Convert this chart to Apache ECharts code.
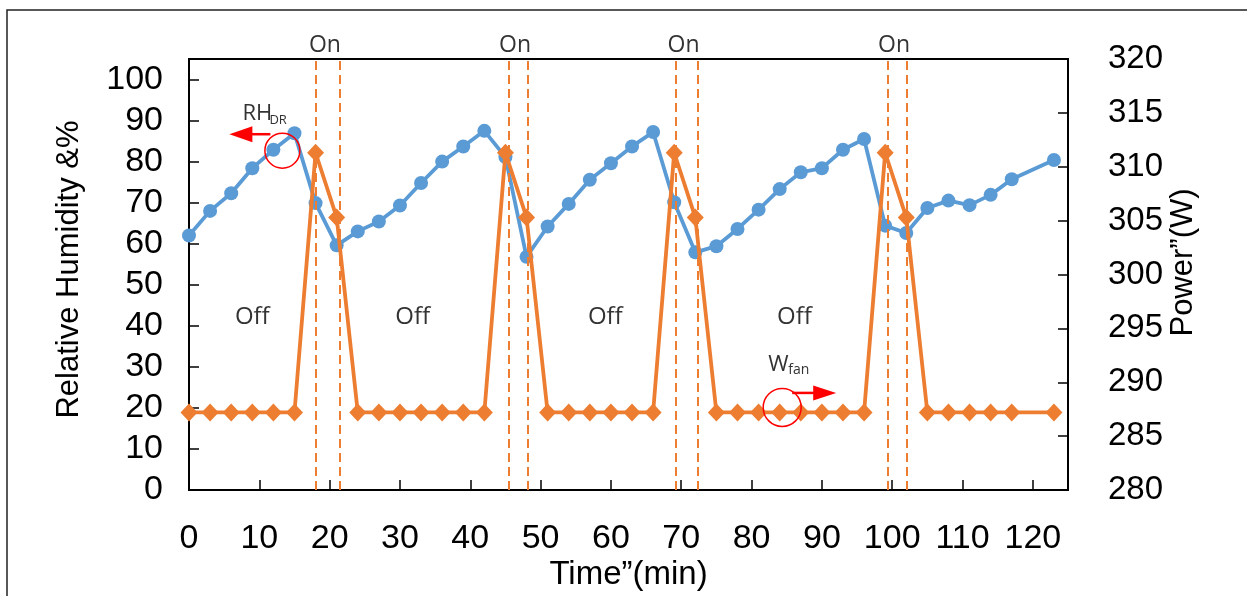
<!DOCTYPE html>
<html>
<head>
<meta charset="utf-8">
<style>
  html, body { margin: 0; padding: 0; background: #fff; }
  #chart { width: 1247px; height: 596px; }
</style>
<script src="https://cdn.jsdelivr.net/npm/echarts@6/dist/echarts.min.js"></script>
</head>
<body>
<div id="chart"></div>
<script>
// 时间（min）
var timeMin = [0, 3, 6, 9, 12, 15, 18, 21, 24, 27, 30, 33, 36, 39, 42, 45, 48, 51, 54, 57,
    60, 63, 66, 69, 72, 75, 78, 81, 84, 87, 90, 93, 96, 99, 102, 105, 108, 111, 114, 117, 123];
// 相对湿度 RH_DR（%）
var rhValues = [62.0, 68.0, 72.3, 78.4, 82.9, 86.9, 69.9, 59.6, 63.0, 65.4, 69.3, 74.8, 80.0, 83.7, 87.5, 81.1, 56.8, 64.2, 69.7, 75.6,
    79.6, 83.7, 87.2, 70.1, 57.9, 59.4, 63.6, 68.3, 73.3, 77.4, 78.4, 82.9, 85.5, 64.4, 62.6, 68.7, 70.5, 69.4, 71.9, 75.7, 80.4];
// 风机功率 W_fan（W）
var powerValues = [287.2, 287.2, 287.2, 287.2, 287.2, 287.2, 311.3, 305.3, 287.2, 287.2, 287.2, 287.2, 287.2, 287.2, 287.2, 311.3, 305.3, 287.2, 287.2, 287.2,
    287.2, 287.2, 287.2, 311.3, 305.3, 287.2, 287.2, 287.2, 287.2, 287.2, 287.2, 287.2, 287.2, 311.3, 305.3, 287.2, 287.2, 287.2, 287.2, 287.2, 287.2];
// 开启区间的虚线位置
var onLines = [18.0, 21.5, 45.4, 48.2, 69.2, 72.3, 99.3, 102.1];
// 关闭区间文字位置（min）
var offLabelTimes = [9, 31.8, 59.2, 86.1];

var tickFont = "'Liberation Sans', Arial, sans-serif";
var noteFont = "'Open Sans', 'Noto Sans', sans-serif";

function zip(xs, ys) {
    return xs.map(function (x, i) { return [x, ys[i]]; });
}

var chart = echarts.init(document.getElementById('chart'));

var axisCommon = {
    axisLine: { show: true, lineStyle: { color: '#000', width: 2 } },
    axisTick: { show: true, inside: true, length: 10, lineStyle: { color: '#000', width: 1.5 } },
    splitLine: { show: false },
    nameMoveOverlap: false
};

chart.setOption({
    animation: false,
    grid: { left: 189, right: 179, top: 59, bottom: 105, show: true, borderColor: '#000', borderWidth: 2 },
    xAxis: Object.assign({
        type: 'value', min: 0, max: 125, interval: 10,
        name: 'Time”(min)', nameLocation: 'middle', nameGap: 68,
        nameTextStyle: { color: '#000', fontFamily: tickFont, fontSize: 33 },
        axisLabel: { color: '#000', fontFamily: tickFont, fontSize: 34, margin: 32, showMaxLabel: false }
    }, axisCommon),
    yAxis: [
        Object.assign({
            type: 'value', min: 0, max: 105, interval: 10, position: 'left',
            name: 'Relative Humidity &%', nameLocation: 'middle', nameGap: 104,
            nameTextStyle: { color: '#000', fontFamily: tickFont, fontSize: 31, padding: [0, 0, 0, 10] },
            axisLabel: { color: '#000', fontFamily: tickFont, fontSize: 34, margin: 26, showMaxLabel: false, padding: [0, 0, 12, 0] }
        }, axisCommon),
        Object.assign({
            type: 'value', min: 280, max: 320, interval: 5, position: 'right',
            name: 'Power”(W)', nameLocation: 'middle', nameGap: 100,
            nameTextStyle: { color: '#000', fontFamily: tickFont, fontSize: 31, padding: [0, 0, 0, 24] },
            axisLabel: { color: '#000', fontFamily: tickFont, fontSize: 33, margin: 40, padding: [0, 0, 8, 0] }
        }, axisCommon)
    ],
    series: [
        {
            name: 'onLines', type: 'line', data: [], z: 1,
            markLine: {
                silent: true, symbol: 'none', label: { show: false },
                lineStyle: { color: '#ED7D31', type: [9, 5], width: 2 },
                data: onLines.map(function (t) { return { xAxis: t }; })
            }
        },
        {
            name: 'RH_DR', type: 'line', yAxisIndex: 0, data: zip(timeMin, rhValues), z: 2,
            symbol: 'circle', symbolSize: 14,
            itemStyle: { color: '#5B9BD5' },
            lineStyle: { color: '#5B9BD5', width: 3.8 }
        },
        {
            name: 'W_fan', type: 'line', yAxisIndex: 1, data: zip(timeMin, powerValues), z: 3,
            symbol: 'diamond', symbolSize: [17, 18],
            itemStyle: { color: '#ED7D31' },
            lineStyle: { color: '#ED7D31', width: 3.8 }
        }
    ]
});

// 注释：On / Off 文字、红色圆圈与箭头
var graphics = [];
graphics.push({
    type: 'polyline', silent: true,
    shape: { points: [[7, 596], [7, 10], [1247, 10]] },
    style: { stroke: '#222', lineWidth: 1.5, fill: null }
});
for (var i = 0; i < onLines.length; i += 2) {
    var px = chart.convertToPixel({ xAxisIndex: 0 }, (onLines[i] + onLines[i + 1]) / 2) - 3;
    graphics.push({
        type: 'text', x: px, y: 45,
        style: { text: 'On', fontFamily: noteFont, fontSize: 23, fill: '#333', align: 'center', verticalAlign: 'middle' }
    });
}
offLabelTimes.forEach(function (t) {
    graphics.push({
        type: 'text', x: chart.convertToPixel({ xAxisIndex: 0 }, t), y: 317,
        style: { text: 'Off', fontFamily: noteFont, fontSize: 24, fill: '#333', align: 'center', verticalAlign: 'middle' }
    });
});

var rhPt = chart.convertToPixel({ xAxisIndex: 0, yAxisIndex: 0 }, [timeMin[4], rhValues[4]]);
var rcx = rhPt[0] + 9, rcy = rhPt[1] + 1;
graphics.push(
    { type: 'circle', shape: { cx: rcx, cy: rcy, r: 17.5 }, style: { stroke: '#FF0000', lineWidth: 1.5, fill: null }, z: 10 },
    { type: 'line', shape: { x1: rcx - 12, y1: rcy - 16.5, x2: rcx - 31, y2: rcy - 16.5 }, style: { stroke: '#FF0000', lineWidth: 2.5 }, z: 10 },
    { type: 'polygon', shape: { points: [[rcx - 30, rcy - 24.5], [rcx - 30, rcy - 8.5], [rcx - 53, rcy - 16.5]] }, style: { fill: '#FF0000' }, z: 10 },
    { type: 'text', x: rcx - 40, y: rcy - 48, style: { text: 'RH', fontFamily: noteFont, fontSize: 22, fill: '#333', verticalAlign: 'top' }, z: 10 },
    { type: 'text', x: rcx - 13, y: rcy - 37, style: { text: 'DR', fontFamily: noteFont, fontSize: 13, fill: '#333', verticalAlign: 'top' }, z: 10 }
);

var wPt = chart.convertToPixel({ xAxisIndex: 0, yAxisIndex: 1 }, [timeMin[28], powerValues[28]]);
var wcx = wPt[0] + 2.5, wcy = wPt[1] - 5;
graphics.push(
    { type: 'circle', shape: { cx: wcx, cy: wcy, r: 19 }, style: { stroke: '#FF0000', lineWidth: 1.5, fill: null }, z: 10 },
    { type: 'line', shape: { x1: wcx + 10, y1: wcy - 14.5, x2: wcx + 32, y2: wcy - 14.5 }, style: { stroke: '#FF0000', lineWidth: 2.5 }, z: 10 },
    { type: 'polygon', shape: { points: [[wcx + 31, wcy - 22], [wcx + 31, wcy - 7], [wcx + 54, wcy - 14.5]] }, style: { fill: '#FF0000' }, z: 10 },
    { type: 'text', x: wcx - 14, y: wcy - 54, style: { text: 'W', fontFamily: noteFont, fontSize: 22, fill: '#333', verticalAlign: 'top' }, z: 10 },
    { type: 'text', x: wcx + 6, y: wcy - 44, style: { text: 'fan', fontFamily: noteFont, fontSize: 14, fill: '#333', verticalAlign: 'top' }, z: 10 }
);

chart.setOption({ graphic: graphics });
</script>
</body>
</html>
